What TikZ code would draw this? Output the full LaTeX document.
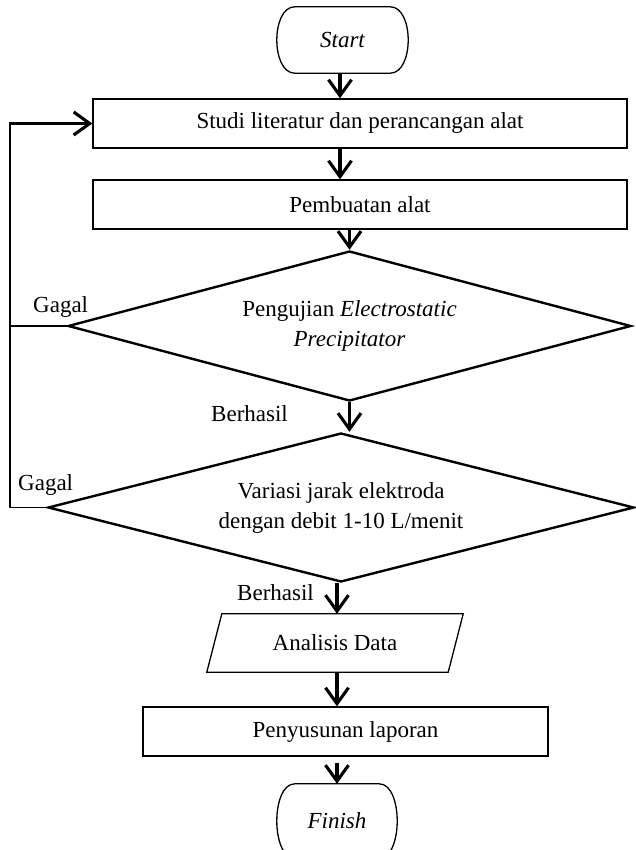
\documentclass[tikz,border=0pt]{standalone}
\usepackage{fontspec}
\setmainfont{Liberation Serif}
\usetikzlibrary{arrows.meta,shapes.geometric}
\tikzset{
  txt/.style={font=\fontsize{23}{30}\selectfont, inner sep=0pt},
  boxnode/.style={txt, draw, line width=1.3pt, minimum height=49pt},
  decision/.style={txt, diamond, draw, line width=2.4pt, align=center},
  arr/.style={line width=3.1pt, -{Straight Barb[length=16pt,width=23pt]}},
  loopline/.style={line width=1.7pt},
  lbl/.style={txt, anchor=base west},
  termline/.style={line width=1.3pt}
}
\begin{document}
\begin{tikzpicture}[x=1pt,y=-1pt]
\useasboundingbox (0,0) rectangle (635,850);
% Start terminal
\node[txt, minimum width=131pt, minimum height=66pt] (start) at (342.5,40) {\itshape Start};
\draw[termline] ([xshift=18pt]start.north west) -- ([xshift=-18pt]start.north east)
  .. controls ([xshift=6pt]start.north east) and ([xshift=6pt]start.south east) .. ([xshift=-18pt]start.south east)
  -- ([xshift=18pt]start.south west)
  .. controls ([xshift=-6pt]start.south west) and ([xshift=-6pt]start.north west) .. cycle;
% process boxes
\node[boxnode, minimum width=534pt] (studi) at (360,123.5) {Studi literatur dan perancangan alat};
\node[boxnode, minimum width=534pt] (pemb) at (360,204.5) {Pembuatan alat};
% decisions
\node[decision, shape aspect=3.75, minimum width=563pt, minimum height=150pt] (d1) at (349.5,326) {Pengujian \textit{Electrostatic}\\\textit{Precipitator}};
\node[decision, shape aspect=3.93, minimum width=586pt, minimum height=149pt] (d2) at (341,507.5) {Variasi jarak elektroda\\dengan debit 1-10 L/menit};
% data (parallelogram)
\node[txt, minimum width=241pt, minimum height=58pt] (ana) at (335,643) {Analisis Data};
\draw[line width=1.3pt] ([xshift=-7.5pt]ana.south west) -- ([xshift=7.5pt]ana.north west)
  -- ([xshift=7.5pt]ana.north east) -- ([xshift=-7.5pt]ana.south east) -- cycle;
\node[boxnode, minimum width=405pt] (peny) at (345.5,731.5) {Penyusunan laporan};
% Finish terminal
\node[txt, minimum width=120pt, minimum height=74pt] (fin) at (337,821) {\itshape Finish};
\draw[termline] ([xshift=18pt]fin.north west) -- ([xshift=-18pt]fin.north east)
  .. controls ([xshift=6pt]fin.north east) and ([xshift=6pt]fin.south east) .. ([xshift=-18pt]fin.south east)
  -- ([xshift=18pt]fin.south west)
  .. controls ([xshift=-6pt]fin.south west) and ([xshift=-6pt]fin.north west) .. cycle;
% column helpers
\coordinate (topx) at ([xshift=-2.5pt]start.south);
\coordinate (botx) at ([xshift=2pt]ana.south);
\coordinate (pbot) at ([yshift=-6pt]peny.south);
% main flow arrows
\draw[arr] (topx) -- (studi.north -| topx);
\draw[arr] (studi.south -| topx) -- (pemb.north -| topx);
\draw[arr] (pemb.south -| d1.north) -- (d1.north);
\draw[arr] (d1.south) -- (d2.north -| d1.south);
\draw[arr] (d2.south -| botx) -- (ana.north -| botx);
\draw[arr] (botx) -- (peny.north -| botx);
\draw[arr] (pbot -| botx) -- (fin.north -| botx);
% feedback loop
\coordinate (c0) at (10,123.5);
\coordinate (c1) at (10,326);
\coordinate (c2) at (10,507.5);
\coordinate (c0s) at (9.15,123.5);
\draw[loopline] (d1.west) -- (c1);
\draw[loopline] (d2.west) -- (c2) -- (c0);
\draw[arr] (c0s) -- (studi.west);
% labels
\node[lbl] (g1) at (33,312) {Gagal};
\node[lbl] (g2) at (18,490) {Gagal};
\node[lbl] (b1) at (211,421) {Berhasil};
\node[lbl] (b2) at (237,600) {Berhasil};
\end{tikzpicture}
\end{document}
